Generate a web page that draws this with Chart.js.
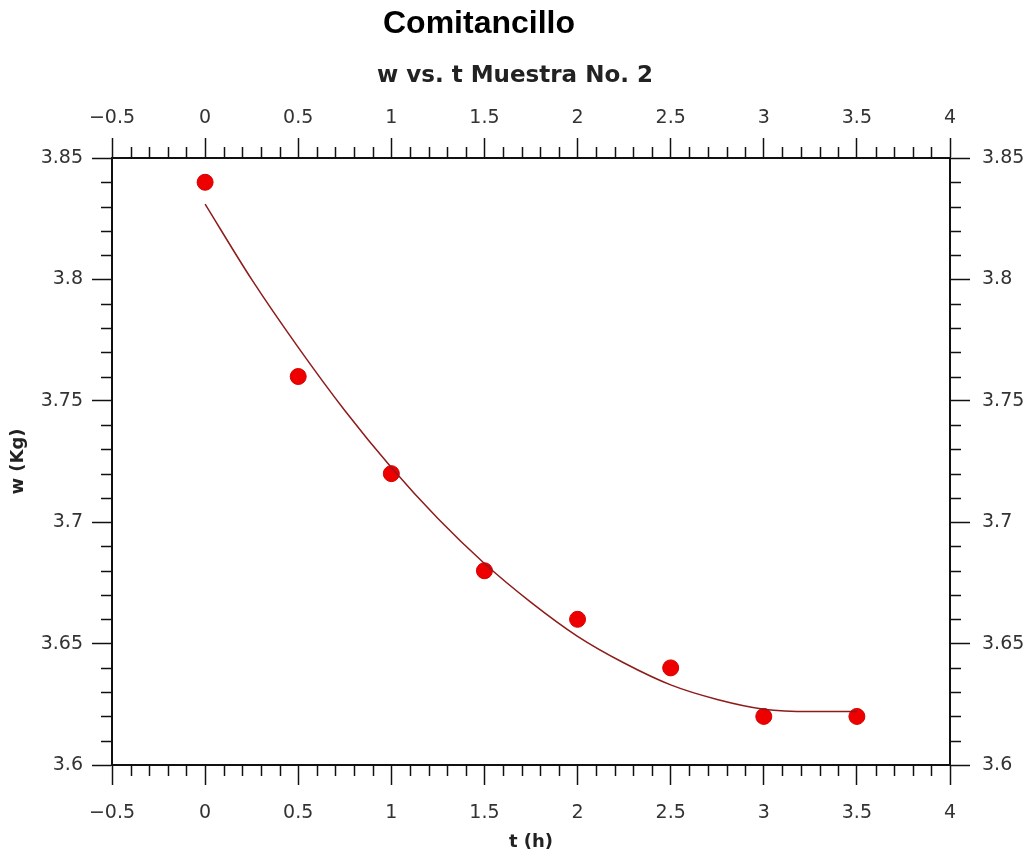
<!DOCTYPE html>
<html>
<head>
<meta charset="utf-8">
<script src="https://cdn.jsdelivr.net/npm/chart.js@4.4.1/dist/chart.umd.min.js"></script>
<style>
  html, body { margin: 0; padding: 0; background: #fff; }
  #wrap { width: 1032px; height: 858px; }
</style>
</head>
<body>
<div id="wrap"><canvas id="chart" width="1032" height="858"></canvas></div>
<script>
// measured points
const tValues = [0, 0.5, 1, 1.5, 2, 2.5, 3, 3.5];
const wValues = [3.84, 3.76, 3.72, 3.68, 3.66, 3.64, 3.62, 3.62];
// fitted curve
const fitT = [0, 0.25, 0.5, 0.75, 1, 1.25, 1.5, 1.75, 2, 2.25, 2.5, 2.75, 3, 3.25, 3.5];
const fitW = [3.831, 3.800, 3.772, 3.746, 3.7225, 3.7015, 3.683, 3.667, 3.653, 3.642, 3.633, 3.627, 3.623, 3.622, 3.622];
// tick labels
const xTicks = [-0.5, 0, 0.5, 1, 1.5, 2, 2.5, 3, 3.5, 4];
const yTicks = [3.6, 3.65, 3.7, 3.75, 3.8, 3.85];

const mainTitle = 'Comitancillo';
const subTitle = 'w vs. t Muestra No. 2';

const tickFont = { family: 'DejaVu Sans', size: 19 };
const fmt = v => String(v).replace('-', '\u2212');

//draws the two titles above the plot
const titles = {
  id: 'titles',
  afterDraw(chart) {
    const ctx = chart.ctx;
    ctx.save();
    ctx.fillStyle = '#000';
    ctx.textAlign = 'center';
    ctx.textBaseline = 'middle';
    ctx.font = 'bold 32px "Liberation Sans"';
    ctx.fillText(mainTitle, 479, 24);
    ctx.fillStyle = '#222';
    ctx.font = 'bold 23px "DejaVu Sans"';
    ctx.fillText(subTitle, 515, 76);
    ctx.restore();
  }
};

//small ticks between the labelled ones, on all four sides
const minorTicks = {
  id: 'minorTicks',
  afterDraw(chart) {
    const ctx = chart.ctx;
    const a = chart.chartArea;
    const xs = chart.scales.x;
    const ys = chart.scales.y;
    const len = 11;
    ctx.save();
    ctx.strokeStyle = '#111';
    ctx.lineWidth = 1.5;
    ctx.beginPath();
    for (let i = 1; i < 45; i++) {
      if (i % 5 === 0) continue;
      const px = Math.round(xs.getPixelForValue(-0.5 + i * 0.1)) + 0.5;
      ctx.moveTo(px, a.top); ctx.lineTo(px, a.top - len);
      ctx.moveTo(px, a.bottom); ctx.lineTo(px, a.bottom + len);
    }
    for (let i = 1; i < 25; i++) {
      if (i % 5 === 0) continue;
      const py = Math.round(ys.getPixelForValue(3.6 + i * 0.01)) + 0.5;
      ctx.moveTo(a.left, py); ctx.lineTo(a.left - len, py);
      ctx.moveTo(a.right, py); ctx.lineTo(a.right + len, py);
    }
    ctx.stroke();
    ctx.restore();
  }
};

const axisBase = (pos, ticks, pad) => ({
  type: 'linear',
  position: pos,
  grid: { drawOnChartArea: false, drawTicks: true, tickLength: 20, tickColor: '#111', tickWidth: 1.5 },
  border: { display: true, color: '#111', width: 2 },
  ticks: { color: '#333', font: tickFont, padding: pad, callback: fmt, autoSkip: false, maxRotation: 0 },
  afterBuildTicks: s => { s.ticks = ticks.map(v => ({ value: v })); }
});

const scales = {
  x: Object.assign(axisBase('bottom', xTicks, 17), {
    min: -0.5, max: 4,
    title: { display: true, text: 't (h)', color: '#222', font: { family: 'DejaVu Sans', size: 18, weight: 'bold' }, padding: { top: 0, bottom: 5 } },
    afterFit: s => { s.height = 93; }
  }),
  x2: Object.assign(axisBase('top', xTicks, 9), {
    min: -0.5, max: 4,
    afterFit: s => { s.height = 158; }
  }),
  y: Object.assign(axisBase('left', yTicks, 9), {
    min: 3.6, max: 3.85,
    title: { display: true, text: 'w (Kg)', color: '#222', font: { family: 'DejaVu Sans', size: 18, weight: 'bold' }, padding: { top: 8, bottom: 0 } },
    afterFit: s => { s.width = 112; }
  }),
  y2: Object.assign(axisBase('right', yTicks, 12), {
    min: 3.6, max: 3.85,
    afterFit: s => { s.width = 82; }
  })
};

let myChart = new Chart(document.getElementById('chart'), {
  type: 'scatter',
  plugins: [titles, minorTicks],
  data: {
    datasets: [
      {
        type: 'line',
        data: fitT.map((t, i) => ({ x: t, y: fitW[i] })),
        borderColor: '#8e1b1b',
        borderWidth: 1.5,
        pointRadius: 0,
        cubicInterpolationMode: 'monotone',
        fill: false,
        xAxisID: 'x',
        yAxisID: 'y'
      },
      {
        data: tValues.map((t, i) => ({ x: t, y: wValues[i] })),
        backgroundColor: '#ee0000',
        borderColor: '#d40000',
        borderWidth: 1,
        pointRadius: 8,
        xAxisID: 'x',
        yAxisID: 'y'
      }
    ]
  },
  options: {
    responsive: false,
    animation: false,
    layout: { padding: 0 },
    plugins: {
      legend: { display: false },
      tooltip: { enabled: false },
      title: { display: false }
    },
    scales: scales
  }
});
</script>
</body>
</html>
